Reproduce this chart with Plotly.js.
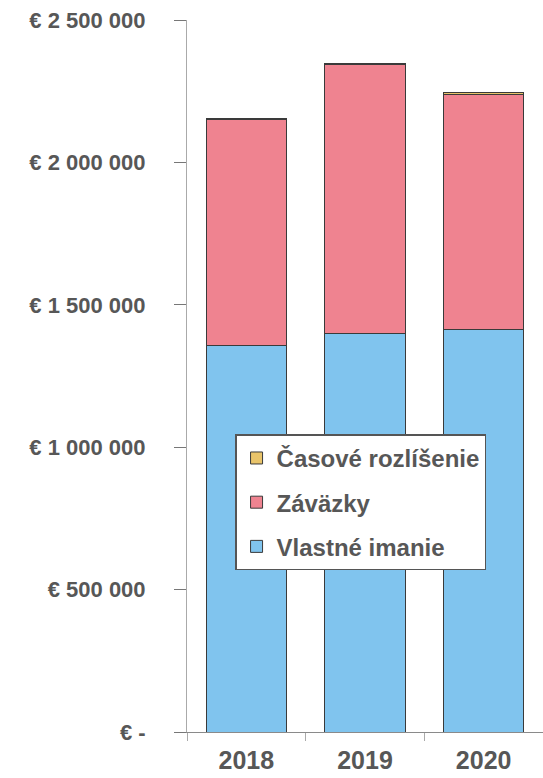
<!DOCTYPE html>
<html>
<head>
<meta charset="utf-8">
<script src="https://cdn.plot.ly/plotly-3.0.1.min.js"></script>
<style>
  html, body { margin: 0; padding: 0; background: #fff; }
  #chart { width: 543px; height: 778px; }
</style>
</head>
<body>
<div id="chart"></div>
<script>
// roky
const years = ['2018', '2019', '2020'];

// hodnoty odčítané z grafu (EUR)
const vlastneImanie = [1356000, 1401000, 1415000];
const zavazky = [793000, 942000, 825000];
const casoveRozlisenie = [4000, 4000, 4000];

// popisy osi y
const yTickVals = [0, 500000, 1000000, 1500000, 2000000, 2500000];
const yTickText = ['€ -', '€ 500 000', '€ 1 000 000', '€ 1 500 000', '€ 2 000 000', '€ 2 500 000'];

const textColor = '#575757';
const edge = { color: '#3a3a3a', width: 1 };

const traces = [
    { name: 'Vlastné imanie', y: vlastneImanie, color: '#80C4EE', group: 'a', rank: 3 },
    { name: 'Záväzky', y: zavazky, color: '#EF8390', group: 'b', rank: 2 },
    { name: 'Časové rozlíšenie', y: casoveRozlisenie, color: '#E9C46A', group: 'c', rank: 1 }
].map(t => ({
    type: 'bar',
    name: t.name,
    x: years,
    y: t.y,
    legendgroup: t.group,
    legendrank: t.rank,
    marker: { color: t.color, line: edge },
    width: 0.676,
    hoverinfo: 'x+y+name'
}));

const layout = {
    width: 543,
    height: 778,
    barmode: 'stack',
    paper_bgcolor: '#fff',
    plot_bgcolor: '#fff',
    margin: { l: 187, r: 0, t: 20, b: 46 },
    font: { family: 'Liberation Sans, Arial, sans-serif', color: textColor },
    showlegend: true,
    legend: {
        x: 0.135, y: 0.418, xanchor: 'left', yanchor: 'top',
        bgcolor: '#fff', bordercolor: '#555', borderwidth: 1.5,
        traceorder: 'grouped',
        tracegroupgap: 10,
        font: { size: 24, weight: 'bold', color: textColor }
    },
    xaxis: {
        type: 'category',
        showline: true, linecolor: '#8a8a8a', linewidth: 1,
        ticks: 'outside', tickson: 'boundaries', ticklen: 8, tickcolor: '#aaa',
        tickfont: { size: 25, weight: 'bold', color: textColor },
        ticklabelstandoff: 6,
        showgrid: false, zeroline: false
    },
    yaxis: {
        range: [0, 2500000],
        tickvals: yTickVals,
        ticktext: yTickText,
        showline: true, linecolor: '#aaa', linewidth: 1,
        ticks: 'outside', ticklen: 12, tickcolor: '#777',
        tickfont: { size: 22, weight: 'bold', color: textColor },
        ticklabelstandoff: 24,
        showgrid: false, zeroline: false
    }
};

Plotly.newPlot('chart', traces, layout, { displayModeBar: false, staticPlot: true });
</script>
</body>
</html>
